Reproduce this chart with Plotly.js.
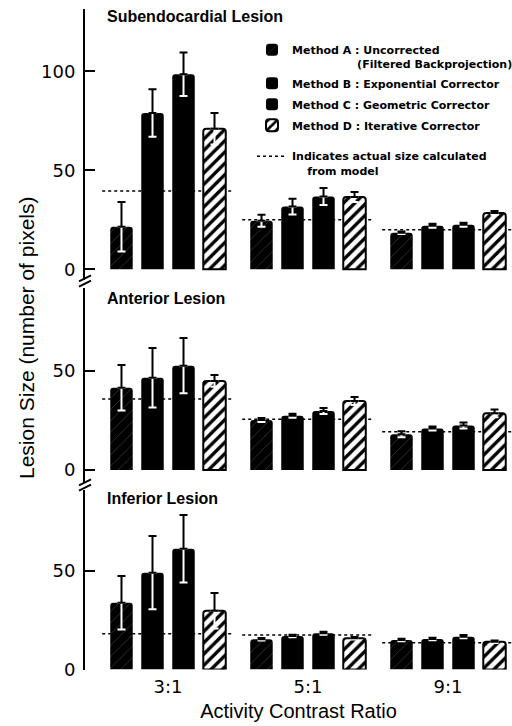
<!DOCTYPE html>
<html><head><meta charset="utf-8">
<script src="https://cdn.plot.ly/plotly-3.0.1.min.js"></script>
<style>html,body{margin:0;padding:0;background:#fff}#chart{width:512px;height:726px}</style>
</head><body><div id="chart"></div>
<script>
// ---------- data ----------
const ratios = ['3:1', '5:1', '9:1'];
const methodKeys = ['A', 'B', 'C', 'D'];
const methodNames = [
  'Method A : Uncorrected<br>' + '\u00a0'.repeat(17) + '(Filtered Backprojection)',
  'Method B : Exponential Corrector',
  'Method C : Geometric Corrector',
  'Method D : Iterative Corrector'
];
const actualLabel = 'Indicates actual size calculated<br>' + '\u00a0'.repeat(4) + 'from model';
const panelTitles = ['Subendocardial Lesion', 'Anterior Lesion', 'Inferior Lesion'];
const yTitle = 'Lesion Size (number of pixels)';
const xTitle = 'Activity Contrast Ratio';

// Subendocardial lesion
const subA = [21.5, 24.5, 18.5];  const subAErr = [12.5, 3, 0.6];
const subB = [79, 31.7, 22];      const subBErr = [12, 4, 1];
const subC = [98.5, 36.8, 22.5];  const subCErr = [11, 4.3, 1];
const subD = [71, 36.5, 28.5];    const subDErr = [8, 2.5, 1];
const subActual = [39.5, 25, 20];

// Anterior lesion
const antA = [41.5, 25.2, 18];    const antAErr = [11.5, 1, 1.5];
const antB = [46.6, 27.4, 21];    const antBErr = [15, 1, 1];
const antC = [52.7, 29.8, 22.5];  const antCErr = [14, 1.5, 1.5];
const antD = [45, 34.8, 28.6];    const antDErr = [3, 2, 2];
const antActual = [35.9, 25.6, 19.3];

// Inferior lesion
const infA = [33.7, 15.3, 14.9];  const infAErr = [13.5, 0.6, 0.6];
const infB = [48.9, 16.9, 15.4];  const infBErr = [18.5, 0.6, 0.6];
const infC = [61, 18.3, 16.6];    const infCErr = [17, 0.8, 0.8];
const infD = [29.7, 15.8, 14];    const infDErr = [9, 0.6, 0.6];
const infActual = [18.1, 17.4, 13.5];

const yTicks = [[0, 50, 100], [0, 50], [0, 50]];

// ---------- layout helpers ----------
const W = 512, H = 726;
const py = v => 1 - v / H;     // pixel row -> paper
const pxx = v => v / W;        // pixel column -> paper
const FONT = 'Liberation Sans, Arial, sans-serif';
const TICKFONT = 'DejaVu Sans, sans-serif';
const LEGFONT = 'DejaVu Sans, sans-serif';

const panels = [
  {vals: [subA, subB, subC, subD], errs: [subAErr, subBErr, subCErr, subDErr], actual: subActual,
   domain: [py(280), py(9)], range: [-5.4, 131.5]},
  {vals: [antA, antB, antC, antD], errs: [antAErr, antBErr, antCErr, antDErr], actual: antActual,
   domain: [py(483), py(288)], range: [-6.57, 91.9]},
  {vals: [infA, infB, infC, infD], errs: [infAErr, infBErr, infCErr, infDErr], actual: infActual,
   domain: [py(669.5), py(490)], range: [0, 90.66]}
];

const xIdx = ratios.map((_, i) => i);
const zeros = ratios.map(() => 0);

const markerStyles = [
  {color: '#000', pattern: {shape: '/', bgcolor: '#000', fgcolor: '#3a3a3a', size: 8, solidity: 0.1}, line: {width: 0}, cornerradius: 3},
  {color: '#000', line: {width: 0}, cornerradius: 3},
  {color: '#000', line: {width: 0}, cornerradius: 3},
  {color: '#fff', pattern: {shape: '/', bgcolor: '#fff', fgcolor: '#000', size: 8, solidity: 0.42}, line: {width: 2, color: '#000'}, cornerradius: 3}
];

const traces = [];
const shapes = [];
panels.forEach((p, pi) => {
  const xa = pi === 0 ? 'x' : 'x' + (pi + 1);
  const ya = pi === 0 ? 'y' : 'y' + (pi + 1);
  // main bars
  methodKeys.forEach((k, m) => {
    traces.push({
      type: 'bar', x: xIdx, y: p.vals[m], xaxis: xa, yaxis: ya,
      offsetgroup: k, legendgroup: k, name: '<b>' + methodNames[m].replace('<br>', '</b><br><b>') + '</b>',
      showlegend: pi === 0, marker: markerStyles[m], hoverinfo: 'skip'
    });
  });
  // white lower error bars (drawn over the bars)
  methodKeys.forEach((k, m) => {
    traces.push({
      type: 'bar', x: xIdx, y: p.vals[m], xaxis: xa, yaxis: ya,
      offsetgroup: k, legendgroup: k, showlegend: false, hoverinfo: 'skip',
      marker: {color: 'rgba(0,0,0,0)', line: {width: 0}},
      error_y: {type: 'data', symmetric: false, array: zeros, arrayminus: p.errs[m], color: '#fff', thickness: 2, width: 4}
    });
  });
  // black upper error bars
  methodKeys.forEach((k, m) => {
    traces.push({
      type: 'bar', x: xIdx, y: p.vals[m], xaxis: xa, yaxis: ya,
      offsetgroup: k, legendgroup: k, showlegend: false, hoverinfo: 'skip',
      marker: {color: 'rgba(0,0,0,0)', line: {width: 0}},
      error_y: {type: 'data', symmetric: false, array: p.errs[m], arrayminus: zeros, color: '#000', thickness: 2, width: 4}
    });
  });
  // dotted "actual size" lines, one per contrast group
  p.actual.forEach((v, i) => {
    shapes.push({type: 'line', xref: xa, yref: ya, x0: xIdx[i] - 0.47, x1: xIdx[i] + 0.47, y0: v, y1: v,
      line: {color: '#000', width: 1.5, dash: 'dot'}, layer: 'below'});
  });
});

// legend-only entry for the dotted line
traces.push({type: 'scatter', x: [null], y: [null], mode: 'lines', xaxis: 'x', yaxis: 'y',
  name: '<b>' + actualLabel.replace('<br>', '</b><br><b>') + '</b>', legend: 'legend2',
  line: {color: '#000', width: 1.5, dash: 'dot'}, hoverinfo: 'skip'});

// axis break marks
[281, 485].forEach(yc => {
  [-2.6, 2.6].forEach(d => {
    shapes.push({type: 'line', xref: 'paper', yref: 'paper', x0: pxx(79), x1: pxx(91),
      y0: py(yc + d + 3), y1: py(yc + d - 3), line: {color: '#000', width: 2}});
  });
});

const xr0 = -(168 - 85) / 140;
const xr = [xr0, xr0 + (W - 85) / 140];
const baseX = {domain: [pxx(85), 1], range: xr, showgrid: false, zeroline: false, showline: false,
  ticks: '', showticklabels: false, fixedrange: true};

const layout = {
  width: W, height: H, margin: {l: 0, r: 0, t: 0, b: 0, autoexpand: false},
  paper_bgcolor: '#fff', plot_bgcolor: 'rgba(0,0,0,0)',
  barmode: 'group', bargap: 0.114, bargroupgap: 0.275,
  showlegend: true,
  legend: {x: pxx(252), xanchor: 'left', y: py(36), yanchor: 'top', bgcolor: 'rgba(0,0,0,0)',
    font: {family: LEGFONT, size: 11, color: '#000'}, tracegroupgap: 2, valign: 'top', traceorder: 'grouped'},
  legend2: {x: pxx(252), xanchor: 'left', y: py(142.5), yanchor: 'top', bgcolor: 'rgba(0,0,0,0)',
    font: {family: LEGFONT, size: 11, color: '#000'}, valign: 'top'},
  xaxis: Object.assign({}, baseX, {anchor: 'y'}),
  xaxis2: Object.assign({}, baseX, {anchor: 'y2'}),
  xaxis3: Object.assign({}, baseX, {anchor: 'y3', showticklabels: true, tickvals: xIdx, ticktext: ratios,
    tickfont: {family: TICKFONT, size: 18, color: '#000'}, ticklabelstandoff: 4,
    title: {text: xTitle, font: {family: FONT, size: 20, color: '#000'}, standoff: 8}}),
  shapes: shapes,
  annotations: [
    {xref: 'paper', yref: 'paper', x: pxx(105), y: py(17), xanchor: 'left', yanchor: 'middle', showarrow: false,
      text: '<b>' + panelTitles[0] + '</b>', font: {family: FONT, size: 16, color: '#000'}},
    {xref: 'paper', yref: 'paper', x: pxx(105), y: py(298), xanchor: 'left', yanchor: 'middle', showarrow: false,
      text: '<b>' + panelTitles[1] + '</b>', font: {family: FONT, size: 16, color: '#000'}},
    {xref: 'paper', yref: 'paper', x: pxx(105), y: py(498), xanchor: 'left', yanchor: 'middle', showarrow: false,
      text: '<b>' + panelTitles[2] + '</b>', font: {family: FONT, size: 16, color: '#000'}},
    {xref: 'paper', yref: 'paper', x: pxx(27), y: py(338), xanchor: 'center', yanchor: 'middle', showarrow: false,
      textangle: -90, text: yTitle, font: {family: FONT, size: 21, color: '#000'}}
  ]
};
panels.forEach((p, pi) => {
  const key = pi === 0 ? 'yaxis' : 'yaxis' + (pi + 1);
  layout[key] = {domain: p.domain, range: p.range, anchor: pi === 0 ? 'x' : 'x' + (pi + 1),
    showline: true, linewidth: 2, linecolor: '#000', ticks: 'inside', ticklen: 10, tickwidth: 2, tickcolor: '#000',
    tickvals: yTicks[pi], tickfont: {family: TICKFONT, size: 18, color: '#000'}, ticklabelstandoff: 4,
    showgrid: false, zeroline: false, fixedrange: true};
});

Plotly.newPlot('chart', traces, layout, {displayModeBar: false, staticPlot: true});
</script>
</body></html>
